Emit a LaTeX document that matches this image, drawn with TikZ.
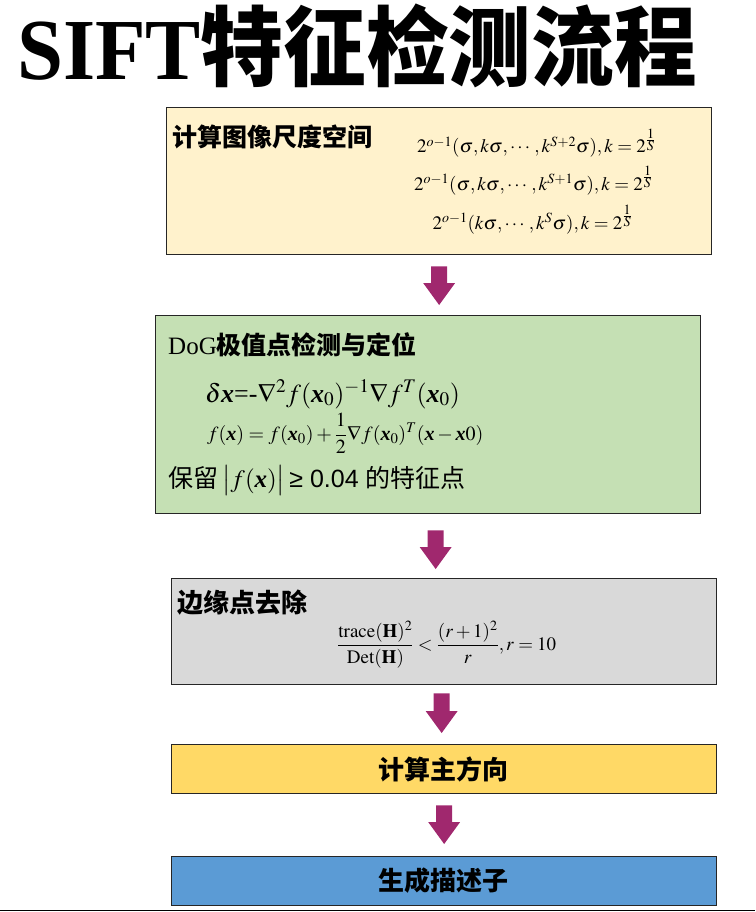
\documentclass[tikz,border=0pt]{standalone}
\usepackage{amsmath}
\usepackage{mathptmx}
\usepackage{fontspec}
\setmainfont{Liberation Serif}
\newfontfamily\cjk{Noto Sans CJK SC}
\newfontfamily\sansf{Liberation Sans}
\usetikzlibrary{calc}
\definecolor{c1}{HTML}{FFF2CC}
\definecolor{c2}{HTML}{C5E0B4}
\definecolor{c3}{HTML}{D9D9D9}
\definecolor{c4}{HTML}{FFD966}
\definecolor{c5}{HTML}{5B9BD5}
\definecolor{arrc}{RGB}{160,40,110}
\newcommand{\bx}{\mbox{\bfseries\itshape x}}
\newcommand{\invS}{2^{\frac{\scriptstyle 1}{\scriptstyle S}}}
\newcommand{\fatarrow}[2]{\fill[arrc] ($(#1)+(-8,0)$) -- ($(#1)+(8,0)$) -- ($(#2)+(8,-22)$) -- ($(#2)+(16,-22)$) -- (#2) -- ($(#2)+(-16,-22)$) -- ($(#2)+(-8,-22)$) -- cycle;}
\begin{document}
\begin{tikzpicture}[x=1pt,y=-1pt,
  box/.style={draw=black!85, line width=1.3pt, anchor=north west, inner sep=0, minimum width=545pt},
  lbl/.style={anchor=base west, inner sep=0},
  ctr/.style={anchor=base, inner sep=0}]
\useasboundingbox (0,0) rectangle (755,912);
% title
\node[lbl] (title) at (17,80) {\fontsize{87}{90}\selectfont\scalebox{0.95}[1]{\bfseries SIFT{\cjk 特征检测流程}}};
% boxes
\node[box, fill=c1, minimum height=147pt] (b1) at (166,107) {};
\node[box, fill=c2, minimum height=198pt] (b2) at (155,315) {};
\node[box, fill=c3, minimum height=106pt] (b3) at (171,578) {};
\node[box, fill=c4, minimum height=49pt] (b4) at (171,744) {};
\node[box, fill=c5, minimum height=49pt] (b5) at (171,856) {};
% box 1 texts
\node[lbl] (t1) at (172,147) {\fontsize{25}{30}\selectfont\cjk\bfseries 计算图像尺度空间};
\node[ctr] (f11) at (536.5,153) {\fontsize{19}{22}\selectfont $2^{o-1}(\sigma,k\sigma,\cdots,k^{S+2}\sigma),k=\invS$};
\node[ctr] (f12) at (533.5,190) {\fontsize{19}{22}\selectfont $2^{o-1}(\sigma,k\sigma,\cdots,k^{S+1}\sigma),k=\invS$};
\node[ctr] (f13) at (532.5,229) {\fontsize{19}{22}\selectfont $2^{o-1}(k\sigma,\cdots,k^{S}\sigma),k=\invS$};
% box 2 texts
\node[lbl] (t2) at (168,354.5) {\fontsize{25}{30}\selectfont DoG{\cjk\bfseries 极值点检测与定位}};
\node[lbl] (f21) at (205,402) {\fontsize{26}{30}\selectfont $\delta\bx$=-$\nabla^2 f(\bx_0)^{-1}\nabla f^T(\bx_0)$};
\node[lbl] (f22) at (207,440) {\fontsize{20}{22}\selectfont $f(\bx)=f(\bx_0)+\dfrac{1}{2}\nabla f(\bx_0)^T(\bx-\bx0)$};
\node[lbl] (t3) at (168,487) {\fontsize{25}{30}\selectfont{\cjk 保留}\,$\left|\vphantom{\big|}f(\bx)\right|$\,{\sansf ≥ 0.04} {\cjk 的特征点}};
% box 3 texts
\node[lbl] (t4) at (177.5,612) {\fontsize{26}{30}\selectfont\cjk\bfseries 边缘点去除};
\node[lbl] (f31) at (337,650) {\fontsize{19}{22}\selectfont $\dfrac{\mathrm{trace}(\mathbf{H})^2}{\mathrm{Det}(\mathbf{H})}<\dfrac{(r+1)^2}{r},r=10$};
% box 4, 5 texts
\node[ctr] (t5) at (443.5,779) {\fontsize{26}{30}\selectfont\cjk\bfseries 计算主方向};
\node[ctr] (t6) at (443.5,890.5) {\fontsize{26}{30}\selectfont\cjk\bfseries 生成描述子};
% arrows
\coordinate (a1s) at ($(b1.south)+(0,11)$);
\coordinate (a1e) at ($(a1s |- b2.north)+(0,-10)$);
\coordinate (a2s) at ($(b2.south)+(7.5,16)$);
\coordinate (a2e) at ($(a2s |- b3.north)+(0,-9)$);
\coordinate (a3s) at ($(b3.south)+(-2.5,8)$);
\coordinate (a3e) at ($(a3s |- b4.north)+(0,-11)$);
\coordinate (a4s) at ($(b4.south)+(0,11)$);
\coordinate (a4e) at ($(a4s |- b5.north)+(0,-12)$);
\fatarrow{a1s}{a1e}
\fatarrow{a2s}{a2e}
\fatarrow{a3s}{a3e}
\fatarrow{a4s}{a4e}
% bottom rule
\draw[line width=1.5pt] (0,910.5) -- (755,910.5);
\end{tikzpicture}
\end{document}
